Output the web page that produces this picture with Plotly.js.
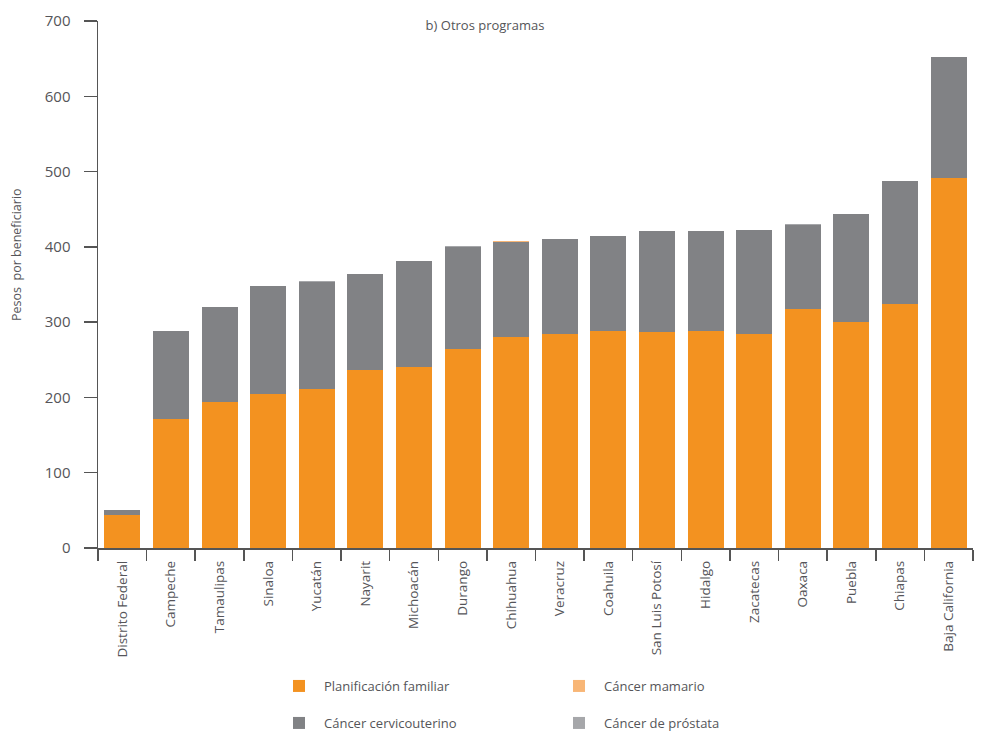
<!DOCTYPE html>
<html><head><meta charset="utf-8">
<script src="https://cdn.plot.ly/plotly-3.0.1.min.js"></script>
<style>html,body{margin:0;padding:0;background:#fff}</style>
</head><body><div id="chart" style="width:981px;height:736px"></div>
<script>
const states = ["Distrito Federal","Campeche","Tamaulipas","Sinaloa","Yucatán","Nayarit","Michoacán","Durango","Chihuahua","Veracruz","Coahuila","San Luis Potosí","Hidalgo","Zacatecas","Oaxaca","Puebla","Chiapas","Baja California"];
const planificacion = [44, 172, 194, 205, 211, 237, 241, 264, 280, 284, 288, 287, 288, 284, 317, 300, 324, 491];
const cervicouterino = [6, 116, 126, 143, 142, 127, 140, 136, 127, 126, 126, 134, 133, 139, 112, 143, 163, 161];
const mamario = [0, 0, 0, 0, 0.8, 0, 0, 0, 0.8, 0, 0, 0, 0, 0, 0, 0, 0, 0];
const prostata = [0, 0, 0, 0, 0.6, 0, 0, 0.8, 0, 0, 0, 0, 0.7, 0, 0.8, 0, 0, 0.8];
const yTitle = "Pesos  por beneficiario";
const chartTitle = "b) Otros programas";

const FONT = "Open Sans, Lato, sans-serif";
const TXT = "#555559";

const traces = [
  {type:"bar", name:"Planificación familiar", x:states, y:planificacion, marker:{color:"#f39220"}, legend:"legend", legendrank:1},
  {type:"bar", name:"Cáncer cervicouterino", x:states, y:cervicouterino, marker:{color:"#818285"}, legend:"legend2", legendrank:1},
  {type:"bar", name:"Cáncer mamario", x:states, y:mamario, marker:{color:"#f8b676"}, legend:"legend", legendrank:2},
  {type:"bar", name:"Cáncer de próstata", x:states, y:prostata, marker:{color:"#a6a7aa"}, legend:"legend2", legendrank:2}
];

const legendBase = {orientation:"h", xref:"container", yref:"container", xanchor:"left", yanchor:"middle", itemwidth:40, font:{family:FONT, size:13, color:TXT}, entrywidth:225, entrywidthmode:"pixels", traceorder:"normal", bgcolor:"rgba(0,0,0,0)"};

const layout = {
  width:981, height:736,
  margin:{l:98, r:8, t:21, b:188, autoexpand:false},
  paper_bgcolor:"#fff", plot_bgcolor:"#fff",
  font:{family:FONT, color:TXT},
  barmode:"stack", bargap:0.26,
  title:{text:chartTitle, xref:"container", yref:"container", x:485/981, y:1-25/736, xanchor:"center", yanchor:"middle", font:{family:FONT, size:13, color:TXT}},
  xaxis:{type:"category", automargin:false, tickson:"boundaries", ticks:"outside", ticklen:11, tickwidth:1.5, tickcolor:"#555",
         showline:true, linecolor:"#555", linewidth:1.5, tickangle:-90, ticklabelstandoff:6, tickfont:{family:FONT, size:13.5, color:TXT}, showgrid:false},
  yaxis:{range:[0,700], automargin:false, dtick:100, ticks:"outside", ticklen:13, tickwidth:1.5, tickcolor:"#555", showline:true, linecolor:"#555", linewidth:1.5,
         showgrid:false, zeroline:false, tickfont:{family:FONT, size:15, color:TXT}, ticklabelstandoff:10},
  legend:Object.assign({}, legendBase, {x:274/981, y:1-686/736}),
  legend2:Object.assign({}, legendBase, {x:274/981, y:1-723/736}),
  annotations:[{text:yTitle, xref:"paper", yref:"paper", x:-81/875, y:0.556, textangle:-90, showarrow:false, xanchor:"center", yanchor:"middle", font:{family:FONT, size:12.5, color:TXT}}]
};

Plotly.newPlot("chart", traces, layout, {staticPlot:true, displayModeBar:false});
</script></body></html>
